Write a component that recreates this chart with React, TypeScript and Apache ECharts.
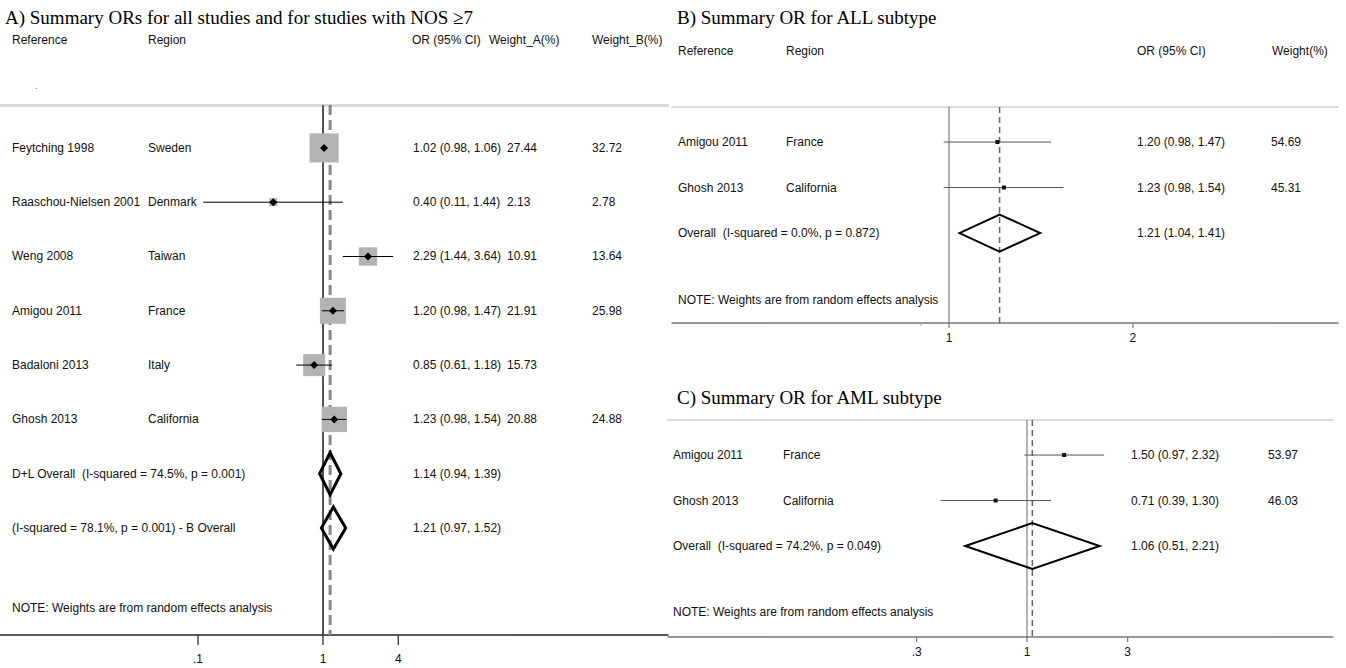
import React, { useEffect, useRef } from "react";
import * as echarts from "echarts";

// ---------- Panel A: all studies ----------
const refsA = ["Feytching 1998", "Raaschou-Nielsen 2001", "Weng 2008", "Amigou 2011", "Badaloni 2013", "Ghosh 2013"];
const regionsA = ["Sweden", "Denmark", "Taiwan", "France", "Italy", "California"];
const orA = [1.02, 0.4, 2.29, 1.2, 0.85, 1.23];
const loA = [0.98, 0.11, 1.44, 0.98, 0.61, 0.98];
const hiA = [1.06, 1.44, 3.64, 1.47, 1.18, 1.54];
const weightA = [27.44, 2.13, 10.91, 21.91, 15.73, 20.88];
const weightB = [32.72, 2.78, 13.64, 25.98, null, 24.88];
const overallLabelsA = ["D+L Overall  (I-squared = 74.5%, p = 0.001)", "(I-squared = 78.1%, p = 0.001) - B Overall"];
const overallOrA = [1.14, 1.21];
const overallLoA = [0.94, 0.97];
const overallHiA = [1.39, 1.52];
const refLinesA = [1, 1.14];
const ticksA = [0.1, 1, 4];
const tickLabelsA = [".1", "1", "4"];

// ---------- Panel B: ALL subtype ----------
const refsB = ["Amigou 2011", "Ghosh 2013"];
const regionsB = ["France", "California"];
const orB = [1.2, 1.23];
const loB = [0.98, 0.98];
const hiB = [1.47, 1.54];
const weightsB = [54.69, 45.31];
const overallLabelsB = ["Overall  (I-squared = 0.0%, p = 0.872)"];
const overallOrB = [1.21];
const overallLoB = [1.04];
const overallHiB = [1.41];
const refLinesB = [1, 1.21];
const ticksB = [0.9, 1, 2];
const tickLabelsB = ["", "1", "2"];

// ---------- Panel C: AML subtype ----------
const refsC = ["Amigou 2011", "Ghosh 2013"];
const regionsC = ["France", "California"];
const orC = [1.5, 0.71];
const loC = [0.97, 0.39];
const hiC = [2.32, 1.3];
const weightsC = [53.97, 46.03];
const overallLabelsC = ["Overall  (I-squared = 74.2%, p = 0.049)"];
const overallOrC = [1.06];
const overallLoC = [0.51];
const overallHiC = [2.21];
const refLinesC = [1, 1.06];
const ticksC = [0.3, 1, 3];
const tickLabelsC = [".3", "1", "3"];

const NOTE = "NOTE: Weights are from random effects analysis";
const SANS = "'Liberation Sans', Arial, Helvetica, sans-serif";
const SERIF = "'Liberation Serif', 'Times New Roman', serif";
const TXT = "#111";

const fmtCI = (o: number, l: number, h: number) => `${o.toFixed(2)} (${l.toFixed(2)}, ${h.toFixed(2)})`;

type Panel = {
  refs: string[];
  regions: string[];
  or: number[];
  lo: number[];
  hi: number[];
  w1: (number | null)[];
  w2?: (number | null)[];
  ovLabels: string[];
  ovOr: number[];
  ovLo: number[];
  ovHi: number[];
  refLines: number[];
  ticks: number[];
  tickLabels: string[];
  grid: { left: number; top: number; width: number; height: number };
  xMin: number;
  xMax: number;
  yMin: number;
  yMax: number;
  noteRow: number;
  cols: { ref: number; region: number; or: number; w1: number; w2?: number };
  box: boolean;
  boxScale: number;
  diamondHalf: number;
  diamondStroke: number;
  ciColor: string;
  axisColor: string;
  axisWidth: number;
  topColor: string;
  topWidth: number;
  solid: { color: string; width: number };
  dashed: { color: string; width: number; dash: number[] };
  tickLen: number;
  labelGap: number;
};

const panels: Panel[] = [
  {
    refs: refsA, regions: regionsA, or: orA, lo: loA, hi: hiA, w1: weightA, w2: weightB,
    ovLabels: overallLabelsA, ovOr: overallOrA, ovLo: overallLoA, ovHi: overallHiA,
    refLines: refLinesA, ticks: ticksA, tickLabels: tickLabelsA,
    grid: { left: 0, top: 105, width: 668, height: 530 },
    xMin: Math.pow(10, -323 / 125), xMax: Math.pow(10, (668 - 323) / 125),
    yMin: -0.79, yMax: -0.79 + 530 / 54.3, noteRow: 8.47,
    cols: { ref: 12, region: 148, or: 413, w1: 507, w2: 592 },
    box: true, boxScale: 5.55, diamondHalf: 21, diamondStroke: 3, ciColor: "#000",
    axisColor: "#222", axisWidth: 1.5, topColor: "#d8d8d8", topWidth: 3,
    solid: { color: "#555", width: 2 }, dashed: { color: "#888", width: 3, dash: [10, 5] },
    tickLen: 10, labelGap: 24,
  },
  {
    refs: refsB, regions: regionsB, or: orB, lo: loB, hi: hiB, w1: weightsB,
    ovLabels: overallLabelsB, ovOr: overallOrB, ovLo: overallLoB, ovHi: overallHiB,
    refLines: refLinesB, ticks: ticksB, tickLabels: tickLabelsB,
    grid: { left: 672, top: 107, width: 666, height: 216 },
    xMin: Math.pow(10, (672 - 949) / 611), xMax: Math.pow(10, (1338 - 949) / 611),
    yMin: -0.77, yMax: -0.77 + 216 / 45.5, noteRow: 3.47,
    cols: { ref: 678, region: 786, or: 1137, w1: 1271 },
    box: false, boxScale: 0, diamondHalf: 18.5, diamondStroke: 2, ciColor: "#555",
    axisColor: "#777", axisWidth: 1.5, topColor: "#dcdcdc", topWidth: 2,
    solid: { color: "#666", width: 1 }, dashed: { color: "#666", width: 1.5, dash: [6, 4] },
    tickLen: 5, labelGap: 15,
  },
  {
    refs: refsC, regions: regionsC, or: orC, lo: loC, hi: hiC, w1: weightsC,
    ovLabels: overallLabelsC, ovOr: overallOrC, ovLo: overallLoC, ovHi: overallHiC,
    refLines: refLinesC, ticks: ticksC, tickLabels: tickLabelsC,
    grid: { left: 668, top: 420, width: 665, height: 217 },
    xMin: Math.pow(10, (668 - 1027) / 211), xMax: Math.pow(10, (1333 - 1027) / 211),
    yMin: -0.77, yMax: -0.77 + 217 / 45.5, noteRow: 3.45,
    cols: { ref: 673, region: 783, or: 1131, w1: 1268 },
    box: false, boxScale: 0, diamondHalf: 23, diamondStroke: 2, ciColor: "#555",
    axisColor: "#777", axisWidth: 1.5, topColor: "#dcdcdc", topWidth: 2,
    solid: { color: "#666", width: 1 }, dashed: { color: "#666", width: 1.5, dash: [6, 4] },
    tickLen: 5, labelGap: 15,
  },
];

const textEl = (text: string, x: number, y: number, align = "left", size = 12) => ({
  type: "text",
  x,
  y,
  style: { text, fill: TXT, fontSize: size, fontFamily: SANS, align, verticalAlign: "middle" },
});

function buildOption() {
  const grid: any[] = [];
  const xAxis: any[] = [];
  const yAxis: any[] = [];
  const series: any[] = [];

  panels.forEach((p, gi) => {
    grid.push({ ...p.grid, containLabel: false });
    xAxis.push({
      gridIndex: gi, type: "log", logBase: 10, min: p.xMin, max: p.xMax, position: "bottom",
      axisLine: { show: true, onZero: false, lineStyle: { color: p.axisColor, width: p.axisWidth } },
      axisTick: { show: false }, axisLabel: { show: false }, splitLine: { show: false },
    });
    xAxis.push({
      gridIndex: gi, type: "log", logBase: 10, min: p.xMin, max: p.xMax, position: "top",
      axisLine: { show: true, onZero: false, lineStyle: { color: p.topColor, width: p.topWidth } },
      axisTick: { show: false }, axisLabel: { show: false }, splitLine: { show: false },
    });
    yAxis.push({ gridIndex: gi, type: "value", inverse: true, min: p.yMin, max: p.yMax, show: false });

    const xi = gi * 2;
    const n = p.refs.length;

    // reference lines (no effect at 1, overall estimate dashed)
    series.push({
      type: "custom", xAxisIndex: xi, yAxisIndex: gi, z: 1, silent: true,
      data: p.refLines.map((v) => [v, p.yMin]),
      renderItem: (params: any, api: any) => {
        const v = api.value(0);
        const a = api.coord([v, p.yMin]);
        const b = api.coord([v, p.yMax]);
        const dashed = params.dataIndex === 1;
        const st = dashed ? p.dashed : p.solid;
        return {
          type: "line",
          shape: { x1: a[0], y1: a[1], x2: b[0], y2: b[1] },
          style: { stroke: st.color, lineWidth: st.width, lineDash: dashed ? p.dashed.dash : null },
        };
      },
    });

    // axis ticks and labels
    series.push({
      type: "custom", xAxisIndex: xi, yAxisIndex: gi, z: 3, silent: true,
      data: p.ticks.map((v) => [v, p.yMax]),
      renderItem: (params: any, api: any) => {
        const v = api.value(0);
        const c = api.coord([v, p.yMax]);
        const label = p.tickLabels[params.dataIndex];
        const minor = label === "";
        return {
          type: "group",
          children: [
            {
              type: "line",
              shape: { x1: c[0], y1: c[1], x2: c[0], y2: c[1] + (minor ? 3 : p.tickLen) },
              style: { stroke: minor ? "#aaa" : p.axisColor, lineWidth: 1.2 },
            },
            textEl(label, c[0], c[1] + p.labelGap, "center"),
          ],
        };
      },
    });

    // study rows and overall rows
    const data: number[][] = [];
    for (let i = 0; i < n; i++) data.push([p.or[i], p.lo[i], p.hi[i], i]);
    for (let j = 0; j < p.ovOr.length; j++) data.push([p.ovOr[j], p.ovLo[j], p.ovHi[j], n + j]);

    series.push({
      type: "custom", xAxisIndex: xi, yAxisIndex: gi, z: 5, silent: true,
      encode: { x: [0, 1, 2], y: 3 },
      data,
      renderItem: (params: any, api: any) => {
        const i = params.dataIndex;
        const row = api.value(3);
        const c = api.coord([api.value(0), row]);
        const l = api.coord([api.value(1), row]);
        const h = api.coord([api.value(2), row]);
        const y = c[1];
        const children: any[] = [];
        if (i < n) {
          if (p.box) {
            const s = p.boxScale * Math.sqrt(p.w1[i] as number);
            children.push({ type: "rect", shape: { x: c[0] - s / 2, y: y - s / 2, width: s, height: s }, style: { fill: "#b3b3b3" } });
          }
          children.push({ type: "line", shape: { x1: l[0], y1: y, x2: h[0], y2: y }, style: { stroke: p.ciColor, lineWidth: 1 } });
          if (p.box) {
            const d = 4;
            children.push({
              type: "polygon",
              shape: { points: [[c[0] - d, y], [c[0], y - d], [c[0] + d, y], [c[0], y + d]] },
              style: { fill: "#000" },
            });
          } else {
            children.push({ type: "rect", shape: { x: c[0] - 2, y: y - 2, width: 4, height: 4 }, style: { fill: "#111" } });
          }
          children.push(textEl(p.refs[i], p.cols.ref, y));
          children.push(textEl(p.regions[i], p.cols.region, y));
          children.push(textEl(fmtCI(p.or[i], p.lo[i], p.hi[i]), p.cols.or, y));
          const w1 = p.w1[i];
          if (w1 != null) children.push(textEl(w1.toFixed(2), p.cols.w1, y));
          if (p.w2 && p.cols.w2 != null) {
            const w2 = p.w2[i];
            if (w2 != null) children.push(textEl(w2.toFixed(2), p.cols.w2, y));
          }
          if (i === 0) {
            const ny = api.coord([1, p.noteRow])[1];
            children.push(textEl(NOTE, p.cols.ref, ny));
          }
        } else {
          const j = i - n;
          const hh = p.diamondHalf;
          children.push({
            type: "polygon",
            shape: { points: [[l[0], y], [c[0], y - hh], [h[0], y], [c[0], y + hh]] },
            style: { fill: "none", stroke: "#000", lineWidth: p.diamondStroke, lineJoin: "miter" },
          });
          children.push(textEl(p.ovLabels[j], p.cols.ref, y));
          children.push(textEl(fmtCI(p.ovOr[j], p.ovLo[j], p.ovHi[j]), p.cols.or, y));
        }
        return { type: "group", children };
      },
    });
  });

  const title = (text: string, x: number, y: number) => ({
    type: "text", left: x, top: y,
    style: { text, fill: "#000", fontSize: 19, fontFamily: SERIF },
  });
  const header = (text: string, x: number, y: number) => ({
    type: "text", left: x, top: y,
    style: { text, fill: TXT, fontSize: 12, fontFamily: SANS },
  });

  const graphic = [
    title("A) Summary ORs for all studies and for studies with NOS \u22657", 5, 8),
    header("Reference", 12, 34),
    header("Region", 148, 34),
    header("OR (95% CI)", 412, 34),
    header("Weight_A(%)", 489, 34),
    header("Weight_B(%)", 592, 34),
    { type: "text", left: 35, top: 80, style: { text: ".", fill: "#777", fontSize: 10, fontFamily: SANS } },
    title("B) Summary OR for ALL subtype", 677, 8),
    header("Reference", 678, 45),
    header("Region", 786, 45),
    header("OR (95% CI)", 1137, 45),
    header("Weight(%)", 1272, 45),
    title("C) Summary OR for AML subtype", 677, 388),
  ];

  return { animation: false, backgroundColor: "#fff", grid, xAxis, yAxis, series, graphic };
}

export default function App() {
  const ref = useRef<HTMLDivElement>(null);
  useEffect(() => {
    const chart = echarts.init(ref.current!, null, { renderer: "svg" });
    chart.setOption(buildOption() as any);
    return () => chart.dispose();
  }, []);
  return (
    <div
      ref={ref}
      style={{ position: "fixed", left: 0, top: 0, width: 1346, height: 668, background: "#fff" }}
    />
  );
}
